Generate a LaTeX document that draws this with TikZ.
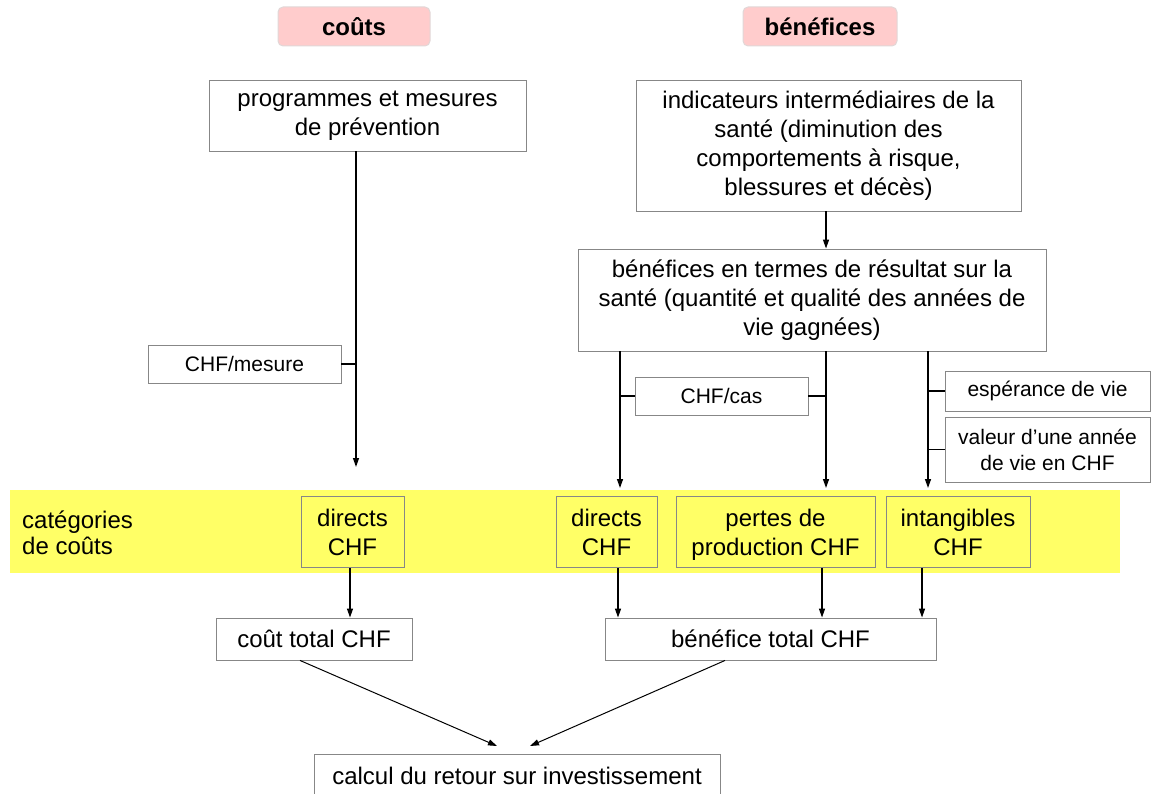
\documentclass[tikz,border=0pt]{standalone}
\usepackage{fontspec}
\setmainfont{Liberation Sans}
\usetikzlibrary{arrows.meta}
\definecolor{pinkbg}{RGB}{255,204,204}
\definecolor{pinkbd}{RGB}{225,215,215}
\definecolor{yel}{RGB}{255,255,102}
\definecolor{bord}{RGB}{135,135,135}
\newcommand{\topstrut}{\rule{0pt}{26pt}}
\begin{document}
\begin{tikzpicture}[x=1pt,y=-1pt,
  box/.style={draw=bord, line width=0.9pt, fill=white, align=center, inner sep=0pt, font=\fontsize{24}{29}\selectfont},
  ybox/.style={box, fill=yel},
  lbl/.style={box, font=\fontsize{21}{26}\selectfont},
  head/.style={draw=pinkbd, line width=1pt, fill=pinkbg, rounded corners=5pt, inner sep=0pt, font=\fontsize{24}{29}\selectfont\bfseries, minimum height=39pt},
  arr/.style={-{Triangle[length=9pt,width=6pt]}, line width=1.3pt},
  ln/.style={line width=1.3pt}]
\useasboundingbox (0,0) rectangle (1153,794);

% headers
\node[head, minimum width=152pt] (couts) at (354,26.5) {coûts};
\node[head, minimum width=154pt] (benef) at (820,26.5) {bénéfices};

% top boxes
\node[box, minimum width=317pt, minimum height=71pt] (prog) at (367.5,115.5) {programmes et mesures\\de prévention};
\node[box, minimum width=385pt, minimum height=131pt] (ind) at (828.5,145.5) {indicateurs intermédiaires de la\\santé (diminution des\\comportements à risque,\\blessures et décès)};
\node[box, minimum width=468pt, minimum height=102pt] (bres) at (812,300) {bénéfices en termes de résultat sur la\\santé (quantité et qualité des années de\\vie gagnées)};

% label boxes
\node[lbl, minimum width=193pt, minimum height=38pt] (chfm) at (244.5,364) {CHF/mesure};
\node[lbl, minimum width=173pt, minimum height=38pt] (chfc) at (721.5,396) {CHF/cas};
\node[lbl, minimum width=205pt, minimum height=40pt] (esp) at (1047.5,391) {espérance de vie};
\node[lbl, minimum width=205pt, minimum height=65pt] (val) at (1047.5,449.5) {valeur d’une année\\de vie en CHF};

% yellow band
\node[fill=yel, inner sep=0pt, minimum width=1110pt, minimum height=83pt] (band) at (565,531.5) {};
\node[anchor=west, align=left, inner sep=0pt, font=\fontsize{24}{26}\selectfont] (cat) at (22,532) {\rule{0pt}{26pt}catégories\\\strut de coûts};
\node[ybox, minimum width=103pt, minimum height=71pt] (d1) at (352.5,532) {\topstrut directs\\\strut CHF};
\node[ybox, minimum width=101pt, minimum height=71pt] (d2) at (606.5,532) {\topstrut directs\\\strut CHF};
\node[ybox, minimum width=199pt, minimum height=71pt] (d3) at (775.5,532) {\topstrut pertes de\\\strut production CHF};
\node[ybox, minimum width=144pt, minimum height=71pt] (d4) at (958,532) {\topstrut intangibles\\\strut CHF};

% totals
\node[box, minimum width=196pt, minimum height=42pt] (ctot) at (314,639) {coût total CHF};
\node[box, minimum width=331pt, minimum height=42pt] (btot) at (770.5,639) {bénéfice total CHF};
\node[box, minimum width=406pt, minimum height=44pt] (calc) at (517,776) {calcul du retour sur investissement};

% column coordinates
\coordinate (x356) at (356,467);
\coordinate (x826) at (826,0);
\coordinate (v1) at (620,488);
\coordinate (v2) at (826,488);
\coordinate (v3) at (928,488);
\coordinate (k1) at (350,0);
\coordinate (k2) at (618,0);
\coordinate (k3) at (822,0);
\coordinate (k4) at (922,0);
\coordinate (t1) at (497,746);
\coordinate (t2) at (530,746);
\coordinate (s1) at (300,0);
\coordinate (s2) at (725,0);

% connectors
\draw[arr] (prog.south -| x356) -- (x356);
\draw[ln] (chfm.east) -- (chfm.east -| x356);
\draw[arr] (ind.south -| x826) -- (bres.north -| x826);
\draw[arr] (bres.south -| v1) -- (v1);
\draw[arr] (bres.south -| v2) -- (v2);
\draw[arr] (bres.south -| v3) -- (v3);
\draw[ln] (chfc.west) -- (chfc.west -| v1);
\draw[ln] (chfc.east) -- (chfc.east -| v2);
\draw[ln] (esp.west) -- (esp.west -| v3);
\draw[ln] (val.west) -- (val.west -| v3);
\draw[arr] (d1.south -| k1) -- (ctot.north -| k1);
\draw[arr] (d2.south -| k2) -- (btot.north -| k2);
\draw[arr] (d3.south -| k3) -- (btot.north -| k3);
\draw[arr] (d4.south -| k4) -- (btot.north -| k4);
\draw[arr, line width=1pt] (ctot.south -| s1) -- (t1);
\draw[arr, line width=1pt] (btot.south -| s2) -- (t2);
\end{tikzpicture}
\end{document}
